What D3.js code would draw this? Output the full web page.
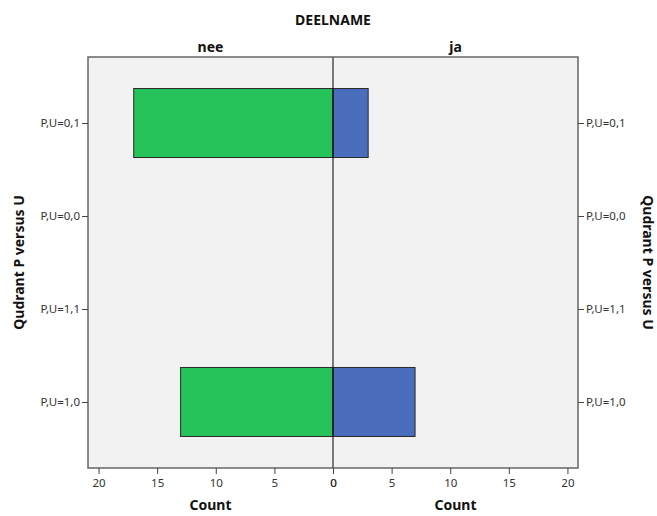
<!DOCTYPE html>
<html><head><meta charset="utf-8">
<script src="https://cdn.jsdelivr.net/npm/d3@7"></script>
<style>body{margin:0;background:#fff;font-family:"Noto Sans",sans-serif;}</style>
</head><body><svg id="c" width="657" height="516"></svg>
<script>
const categories = ["P,U=0,1","P,U=0,0","P,U=1,1","P,U=1,0"];
const neeValues = [17, 0, 0, 13];
const jaValues = [3, 0, 0, 7];
const tickValues = [0,5,10,15,20];
const panelLabels = ["nee","ja"];

const svg = d3.select("#c");
const L = 88, R = 578, T = 57, B = 468, C = 333;
const maxV = 20.9;
const xl = d3.scaleLinear().domain([maxV,0]).range([L,C]);
const xr = d3.scaleLinear().domain([0,maxV]).range([C,R]);
const y = d3.scalePoint().domain(categories).range([T,B]).padding(0.71);
const bh = 69;

svg.append("rect").attr("x",L).attr("y",T).attr("width",R-L).attr("height",B-T).attr("fill","#f2f2f2");

const g = svg.append("g");
g.selectAll(".n").data(categories.map((c,i)=>({c,v:neeValues[i]})).filter(d=>d.v>0)).join("rect")
 .attr("x",d=>xl(d.v)).attr("y",d=>y(d.c)-bh/2).attr("width",d=>C-xl(d.v)).attr("height",bh)
 .attr("fill","#26c25a").attr("stroke","#2a2a2a").attr("stroke-width",1);
g.selectAll(".j").data(categories.map((c,i)=>({c,v:jaValues[i]})).filter(d=>d.v>0)).join("rect")
 .attr("x",C).attr("y",d=>y(d.c)-bh/2).attr("width",d=>xr(d.v)-C).attr("height",bh)
 .attr("fill","#4a6dbd").attr("stroke","#2a2a2a").attr("stroke-width",1);

svg.append("line").attr("x1",C).attr("x2",C).attr("y1",T).attr("y2",B).attr("stroke","#000").attr("stroke-width",1);
svg.append("rect").attr("x",L).attr("y",T).attr("width",R-L).attr("height",B-T).attr("fill","none").attr("stroke","#666").attr("stroke-width",1.5);

function styleAxis(a){
  a.select(".domain").remove();
  a.selectAll(".tick line").attr("stroke","#444");
  a.selectAll(".tick text").attr("fill","#333").style("font-family","'Noto Sans',sans-serif").style("font-size","11.5px");
}
svg.append("g").attr("transform",`translate(0,${B})`).call(d3.axisBottom(xl).tickValues(tickValues).tickSize(6).tickPadding(5)).call(styleAxis);
svg.append("g").attr("transform",`translate(0,${B})`).call(d3.axisBottom(xr).tickValues(tickValues).tickSize(6).tickPadding(5)).call(styleAxis);
svg.append("g").attr("transform",`translate(${L},0)`).call(d3.axisLeft(y).tickSize(6).tickPadding(2)).call(styleAxis);
svg.append("g").attr("transform",`translate(${R},0)`).call(d3.axisRight(y).tickSize(6).tickPadding(2)).call(styleAxis);

const bold = s=>s.style("font-family","'Noto Sans',sans-serif").style("font-weight","bold").attr("fill","#111").attr("text-anchor","middle");
svg.append("text").attr("x",C).attr("y",25).style("font-size","14px").text("DEELNAME").call(bold);
svg.append("text").attr("x",(L+C)/2).attr("y",52).style("font-size","14px").text(panelLabels[0]).call(bold);
svg.append("text").attr("x",(C+R)/2).attr("y",52).style("font-size","14px").text(panelLabels[1]).call(bold);
svg.append("text").attr("x",(L+C)/2).attr("y",510).style("font-size","14px").text("Count").call(bold);
svg.append("text").attr("x",(C+R)/2).attr("y",510).style("font-size","14px").text("Count").call(bold);
svg.append("text").attr("transform",`translate(24,${(T+B)/2}) rotate(-90)`).style("font-size","14px").text("Qudrant P versus U").call(bold);
svg.append("text").attr("transform",`translate(643,${(T+B)/2}) rotate(90)`).style("font-size","14px").text("Qudrant P versus U").call(bold);
</script></body></html>
